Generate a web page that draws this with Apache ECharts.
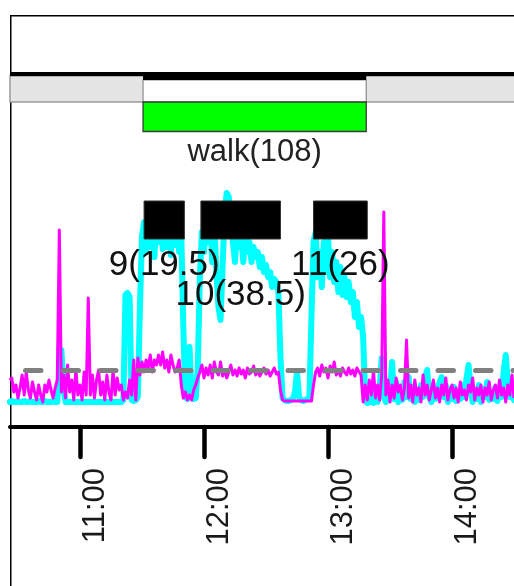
<!DOCTYPE html>
<html><head><meta charset="utf-8">
<script src="https://cdn.jsdelivr.net/npm/echarts@6/dist/echarts.min.js"></script>
<style>html,body{margin:0;padding:0;background:#fff}#c{width:514px;height:586px}</style>
</head><body><div id="c"></div>
<script>
// samples: one per minute, first sample at 10:26 (minutes of day)
const sampleStart = 626;
const sampleStep = 1;

const cyanValues = [
25,26,25,25,26,25,25,26,25,25, 26,25,25,25,26,25,25,26,25,25,
25,26,25,25,55,77,40,25,25,25, 25,25,25,25,25,25,25,25,25,25,
25,25,25,25,25,25,25,25,25,25, 25,25,25,25,25,27,132,134,130,27,
26,27,30,120,190,205,175,210,180,212, 170,208,185,215,178,210,180,205,172,212,
182,200,175,195,100,30,28,80,30,28, 29,60,150,195,175,205,185,210,165,205,
155,120,107,160,215,234,230,200,185,165, 200,180,195,165,190,175,185,165,180,170,
175,160,170,155,162,150,155,140,148,145, 135,70,29,27,26,26,27,28,35,55,
30,27,26,27,28,30,110,185,195,150, 175,140,185,155,190,150,175,145,165,135,
160,132,150,130,145,125,135,110,125,100, 110,90,30,24,25,30,24,35,25,40,
69,30,25,40,35,65,28,45,25,38, 27,45,30,50,28,40,25,35,27,42,
30,50,57,30,25,40,28,35,45,50, 30,42,25,38,28,40,26,35,28,42,
30,48,62,40,25,35,28,42,25,38, 30,45,27,35,28,40,26,38,30,55,
72,45,30,35,27
];

const magentaValues = [
47,49,35,42,29,39,52,32,55,37, 29,45,35,27,42,32,25,42,35,47,
37,29,39,47,197,35,52,29,62,35, 47,27,57,32,42,27,55,32,129,32,
52,29,47,57,32,45,27,52,35,27, 57,32,49,37,42,27,35,29,47,32,
67,27,69,52,65,55,67,59,72,55, 67,62,72,62,75,59,67,55,72,62,
55,59,67,42,29,35,27,32,27,37, 42,49,55,62,49,59,52,62,49,65,
55,52,65,51,57,49,55,62,52,57, 51,59,53,57,49,59,53,55,61,52,
57,51,55,59,53,57,51,55,59,53, 55,37,27,26,26,26,26,26,26,26,
26,26,26,26,26,26,26,42,55,59, 51,62,55,59,49,61,55,65,52,57,
51,59,55,52,59,53,57,51,59,55, 52,25,42,27,47,32,57,29,42,27,
52,215,32,47,25,42,29,49,35,42, 27,39,87,29,42,25,47,32,39,25,
52,32,42,27,37,47,29,39,25,42, 32,49,27,37,42,29,39,25,45,32,
37,27,42,35,49,27,39,32,42,25, 39,32,45,27,37,42,29,47,32,39,
25,42,32,52,29
];

const thresholdValue = 56.5;

const walkName = 'walk';
const walkStart = 690.5;
const walkEnd = 798.5;

const boutNames = ['9', '10', '11'];
const boutStarts = [691, 718.5, 773];
const boutEnds = [710.5, 757, 799];

const tickValues = [660, 720, 780, 840];
const tickLabels = ['11:00', '12:00', '13:00', '14:00'];

const FONT = '"Liberation Sans", Arial, sans-serif';

function toSeries(vals) {
  return vals.map((v, i) => [sampleStart + i * sampleStep, v]);
}
function rectFrom(api, x0, x1, vTop, vBot) {
  const a = api.coord([x0, vTop]);
  const b = api.coord([x1, vBot]);
  return { x: a[0], y: a[1], width: b[0] - a[0], height: b[1] - a[1] };
}
function fmtDur(d) { return String(Math.round(d * 10) / 10); }

const chart = echarts.init(document.getElementById('c'), null, { renderer: 'canvas' });

const option = {
  animation: false,
  backgroundColor: '#ffffff',
  graphic: [
    { type: 'polyline', z: 1, silent: true,
      shape: { points: [[10.75, 600], [10.75, 15.75], [520, 15.75]] },
      style: { stroke: '#000', lineWidth: 1.5, fill: null } }
  ],
  grid: [
    { left: 10, right: 0, top: 15, bottom: 159, containLabel: false }
  ],
  xAxis: [
    {
      type: 'value', min: 626.13, max: 870,
      splitLine: { show: false },
      axisLine: { show: true, onZero: false, lineStyle: { color: '#000', width: 4 } },
      axisTick: { show: true, customValues: tickValues, length: 30, lineStyle: { color: '#000', width: 4.5, cap: 'round' } },
      axisLabel: {
        show: true, customValues: tickValues, rotate: 90, margin: 41,
        fontSize: 31, fontFamily: FONT, color: '#1a1a1a', verticalAlign: 'top',
        formatter: function (v) { const i = tickValues.indexOf(v); return i >= 0 ? tickLabels[i] : ''; }
      }
    }
  ],
  yAxis: [
    { type: 'value', show: false, min: 0, max: 412, splitLine: { show: false } }
  ],
  series: [
    {
      type: 'line', name: 'cyan', data: toSeries(cyanValues), showSymbol: false, z: 2,
      lineStyle: { color: '#00ffff', width: 6, join: 'round', cap: 'round' },
      markLine: {
        silent: true, symbol: 'none', label: { show: false },
        lineStyle: { color: '#808080', width: 5, type: [15.5, 22], dashOffset: 22, cap: 'round' },
        data: [{ yAxis: thresholdValue }]
      }
    },
    {
      type: 'line', name: 'magenta', data: toSeries(magentaValues), showSymbol: false, z: 3,
      lineStyle: { color: '#ff00ff', width: 3, join: 'round' }
    },
    {
      type: 'custom', name: 'walk', z: 5, clip: false,
      data: [[walkStart, walkEnd]],
      renderItem: function (params, api) {
        const cs = params.coordSys;
        const s = api.value(0), e = api.value(1);
        const band = rectFrom(api, s, e, 351, 325);
        const topLine = rectFrom(api, s, e, 355, 351);
        const children = [
          { type: 'rect', shape: { x: cs.x, y: band.y, width: cs.width + 20, height: band.height },
            style: { fill: '#e5e5e5', stroke: '#9a9a9a', lineWidth: 1.5 } },
          { type: 'rect', shape: { x: cs.x, y: topLine.y, width: cs.width + 20, height: topLine.height },
            style: { fill: '#000' } },
          { type: 'rect', shape: rectFrom(api, s, e, 347, 325), style: { fill: '#fff', stroke: '#8a8a8a', lineWidth: 1.2 } },
          { type: 'rect', shape: rectFrom(api, s, e, 355, 347), style: { fill: '#000' } },
          { type: 'rect', shape: rectFrom(api, s, e, 325, 295.5), style: { fill: '#00ff00', stroke: '#3a3a3a', lineWidth: 1.3 } }
        ];
        const c = api.coord([(s + e) / 2, 275]);
        children.push({ type: 'text', x: c[0], y: c[1],
          style: { text: walkName + '(' + fmtDur(e - s) + ')', fontSize: 31, fontFamily: FONT, fill: '#222', align: 'center', verticalAlign: 'middle' } });
        return { type: 'group', children: children };
      }
    },
    {
      type: 'custom', name: 'bouts', z: 6, clip: false,
      data: boutNames.map((n, i) => [boutStarts[i], boutEnds[i]]),
      renderItem: function (params, api) {
        const i = params.dataIndex;
        const s = api.value(0), e = api.value(1);
        const labelV = (i % 2 === 1) ? 132 : 162;
        const c = api.coord([(s + e) / 2, labelV]);
        return { type: 'group', children: [
          { type: 'rect', shape: rectFrom(api, s, e, 226, 188), style: { fill: '#000', stroke: '#333', lineWidth: 1 } },
          { type: 'text', x: c[0], y: c[1],
            style: { text: boutNames[i] + '(' + fmtDur(e - s) + ')', fontSize: 35, fontFamily: FONT, fill: '#111', align: 'center', verticalAlign: 'middle' } }
        ] };
      }
    }
  ]
};
chart.setOption(option);
</script>
</body></html>
